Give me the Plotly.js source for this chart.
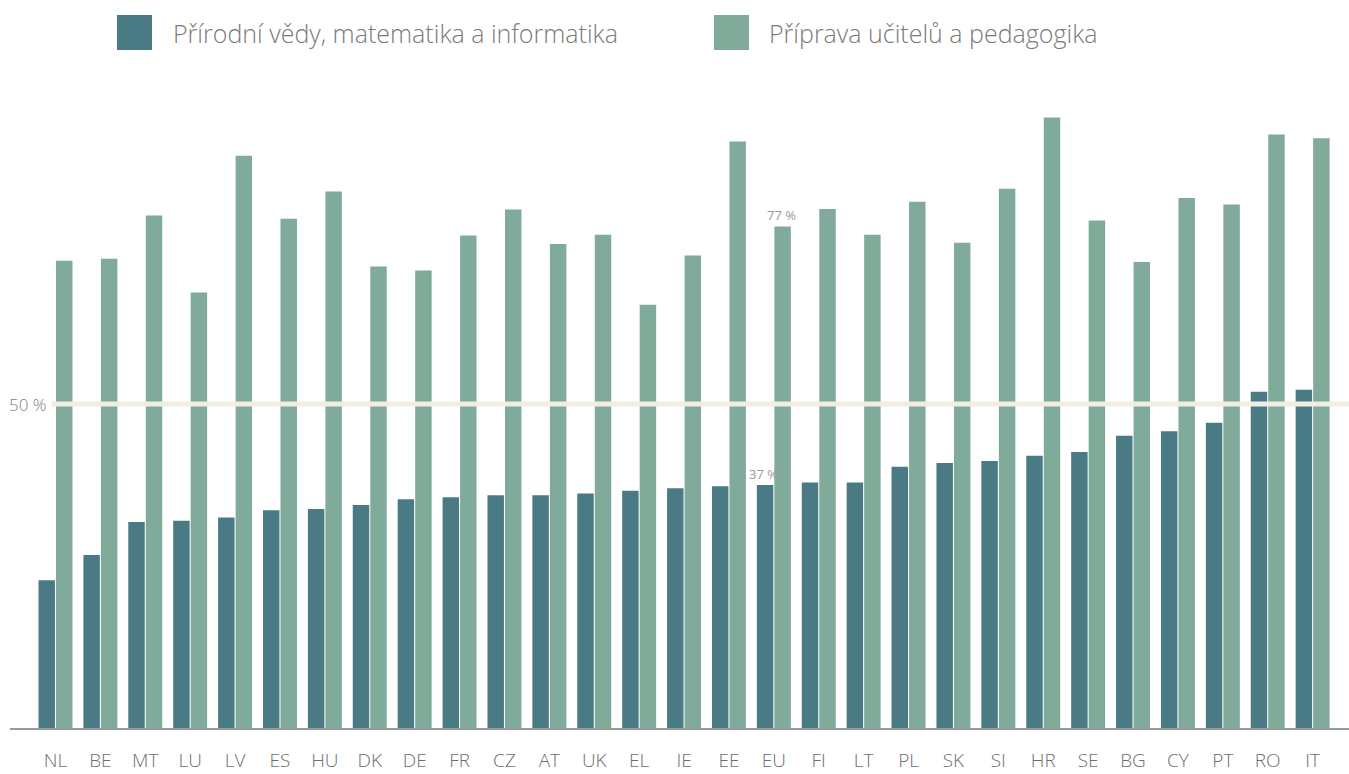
<!DOCTYPE html>
<html>
<head>
<meta charset="utf-8">
<script src="https://cdn.plot.ly/plotly-3.0.1.min.js"></script>
<style>html,body{margin:0;padding:0;background:#fff;}#chart{width:1349px;height:774px;}</style>
</head>
<body>
<div id="chart"></div>
<script>
const countries = ["NL","BE","MT","LU","LV","ES","HU","DK","DE","FR","CZ","AT","UK","EL","IE","EE","EU","FI","LT","PL","SK","SI","HR","SE","BG","CY","PT","RO","IT"];
const science = [22.8,26.7,31.8,32.0,32.5,33.6,33.8,34.4,35.3,35.6,35.9,35.9,36.2,36.6,37.0,37.3,37.5,37.9,37.9,40.3,40.9,41.2,42.0,42.6,45.1,45.8,47.1,51.9,52.2];
const teacher = [72.1,72.4,79.1,67.2,88.3,78.6,82.8,71.2,70.6,76.0,80.0,74.7,76.1,65.3,72.9,90.5,77.4,80.1,76.1,81.2,74.9,83.2,94.2,78.3,71.9,81.8,80.8,91.6,91.0];
const seriesNames = ["Přírodní vědy, matematika a informatika","Příprava učitelů a pedagogika"];
const colors = ["#4a7b84","#80aa9a"];
const refValue = 50;
const euLabels = ["37 %","77 %"];

const FONT = "Open Sans, Noto Sans, sans-serif";

const traces = [
  {type:"bar", x:countries, y:science, name:seriesNames[0], marker:{color:colors[0], line:{width:0}}, hoverinfo:"x+y"},
  {type:"bar", x:countries, y:teacher, name:seriesNames[1], marker:{color:colors[1], line:{width:0}}, hoverinfo:"x+y"}
];

const layout = {
  width:1349, height:774,
  margin:{l:10, r:0, t:80, b:46},
  paper_bgcolor:"#fff", plot_bgcolor:"#fff",
  showlegend:false,
  barmode:"group", bargap:0.22, bargroupgap:0.06,
  font:{family:FONT, color:"#777"},
  xaxis:{type:"category", range:[-1.013, 28.81], showline:true, linecolor:"#9a9a9a", linewidth:2,
         showgrid:false, zeroline:false, ticks:"", ticklabelstandoff:14,
         tickfont:{family:FONT, size:19, color:"#6e6e6e", weight:300}, automargin:false, fixedrange:true},
  yaxis:{range:[0,100], showgrid:false, zeroline:false, showticklabels:false, showline:false, fixedrange:true, automargin:false},
  shapes:[
    {type:"line", xref:"paper", x0:0.031, x1:1, yref:"y", y0:refValue, y1:refValue, line:{color:"#f1ede4", width:5}, layer:"above"},
    {type:"rect", xref:"paper", yref:"paper", x0:(117-10)/1339, x1:(152-10)/1339, y0:1+(80-50)/648, y1:1+(80-15)/648, fillcolor:colors[0], line:{width:0}},
    {type:"rect", xref:"paper", yref:"paper", x0:(714-10)/1339, x1:(749-10)/1339, y0:1+(80-50)/648, y1:1+(80-15)/648, fillcolor:colors[1], line:{width:0}}
  ],
  annotations:[
    {xref:"paper", yref:"paper", x:(171-10)/1339, y:1+(80-33)/648, xanchor:"left", yanchor:"middle", text:seriesNames[0], showarrow:false, font:{family:FONT, size:25, color:"#7a7a7a", weight:300}},
    {xref:"paper", yref:"paper", x:(767-10)/1339, y:1+(80-33)/648, xanchor:"left", yanchor:"middle", text:seriesNames[1], showarrow:false, font:{family:FONT, size:25, color:"#7a7a7a", weight:300}},
    {xref:"paper", yref:"y", x:-0.002, y:refValue, xanchor:"left", yanchor:"middle", text:refValue+" %", showarrow:false, font:{family:FONT, size:17, color:"#808080", weight:300}},
    {xref:"x", yref:"y", x:"EU", y:science[countries.indexOf("EU")], xshift:-10, yanchor:"bottom", text:euLabels[0], showarrow:false, font:{family:FONT, size:13, color:"#999"}},
    {xref:"x", yref:"y", x:"EU", y:teacher[countries.indexOf("EU")], xshift:8, yanchor:"bottom", text:euLabels[1], showarrow:false, font:{family:FONT, size:13, color:"#999"}}
  ]
};

Plotly.newPlot("chart", traces, layout, {displayModeBar:false, staticPlot:true});
</script>
</body>
</html>
